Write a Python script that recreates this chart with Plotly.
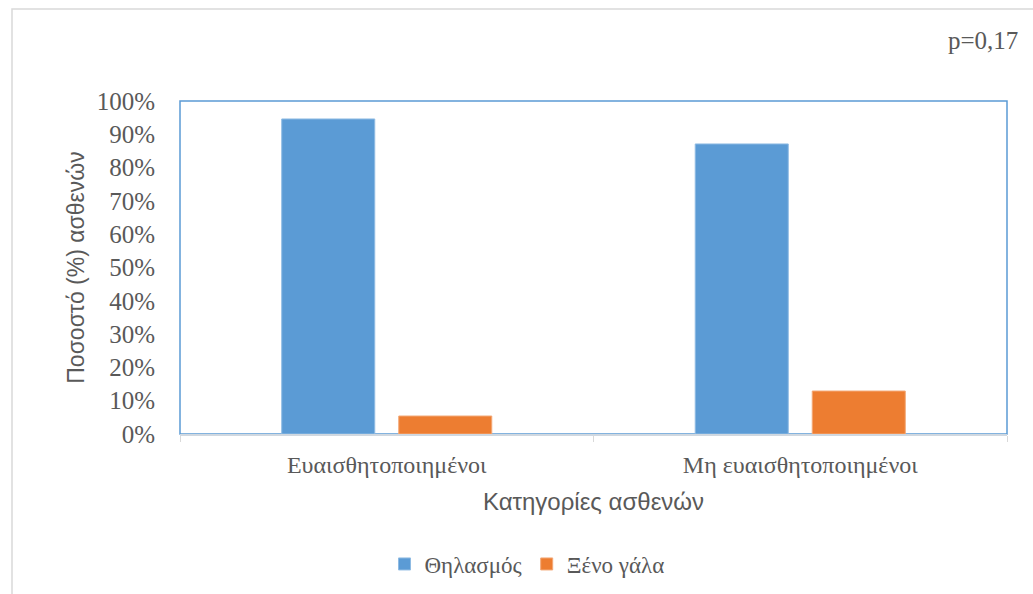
import plotly.graph_objects as go

# Patient categories and percentages per feeding type
categories = ["Ευαισθητοποιημένοι", "Μη ευαισθητοποιημένοι"]
breastfeeding = [94.6, 87.1]
formula_milk = [5.4, 12.9]
series_names = ["Θηλασμός", "Ξένο γάλα"]
y_ticks = [0, 10, 20, 30, 40, 50, 60, 70, 80, 90, 100]
y_tick_labels = [f"{v}%" for v in y_ticks]

BLUE = "#5b9bd5"
ORANGE = "#ed7d31"
TEXT = "#595959"
SERIF = "Liberation Serif, Times New Roman, serif"
SANS = "Liberation Sans, Arial, sans-serif"

fig = go.Figure()
fig.add_trace(go.Bar(x=categories, y=breastfeeding, name=series_names[0],
                     marker=dict(color=BLUE, line=dict(color="#8fbbe3", width=1))))
fig.add_trace(go.Bar(x=categories, y=formula_milk, name=series_names[1],
                     marker=dict(color=ORANGE, line=dict(color="#f3a877", width=1))))

W, H = 1033, 594
L, R, T, B = 180, 26, 101, 160
pw, ph = W - L - R, H - T - B

fig.update_layout(
    width=W, height=H,
    margin=dict(l=L, r=R, t=T, b=B, autoexpand=False),
    paper_bgcolor="white", plot_bgcolor="white",
    barmode="group", bargap=0.434, bargroupgap=0.205,
    showlegend=True,
    legend=dict(orientation="h", x=(527 - L) / pw, xanchor="center",
                y=(T + ph - 564) / ph, yanchor="middle",
                font=dict(family=SERIF, size=23, color=TEXT),
                itemwidth=30, traceorder="normal"),
    xaxis=dict(
        type="category", showgrid=False, automargin=False,
        showline=True, linecolor="#d0d8e0", linewidth=2,
        ticks="outside", tickson="boundaries", ticklen=6, tickcolor="#d9d9d9",
        tickfont=dict(family=SERIF, size=24, color=TEXT),
        ticklabelstandoff=8,
        title=dict(text="Κατηγορίες ασθενών", standoff=16,
                   font=dict(family=SANS, size=24, color=TEXT)),
    ),
    yaxis=dict(
        range=[0, 100], tickvals=y_ticks, ticktext=y_tick_labels,
        showgrid=False, zeroline=False, showline=False, ticks="",
        automargin=False,
        tickfont=dict(family=SERIF, size=25, color=TEXT),
        ticklabelstandoff=24,
        title=dict(text="Ποσοστό (%) ασθενών", standoff=5,
                   font=dict(family=SANS, size=23, color=TEXT)),
    ),
    shapes=[
        # plot area frame
        dict(type="rect", xref="paper", yref="paper", x0=0, x1=1, y0=0, y1=1,
             line=dict(color=BLUE, width=1.5), layer="below"),
        # chart area frame
        dict(type="rect", xref="paper", yref="paper",
             x0=(12 - L) / pw, x1=(W + 20 - L) / pw,
             y0=(T + ph - (H + 20)) / ph, y1=(T + ph - 9) / ph,
             line=dict(color="#d9d9d9", width=1.5), layer="below"),
    ],
    annotations=[
        dict(text="p=0,17", xref="paper", yref="paper",
             x=(1020 - L) / pw, xanchor="right",
             y=(T + ph - 40) / ph, yanchor="middle",
             showarrow=False, font=dict(family=SERIF, size=25, color=TEXT)),
    ],
)

fig.write_html("out.html")
